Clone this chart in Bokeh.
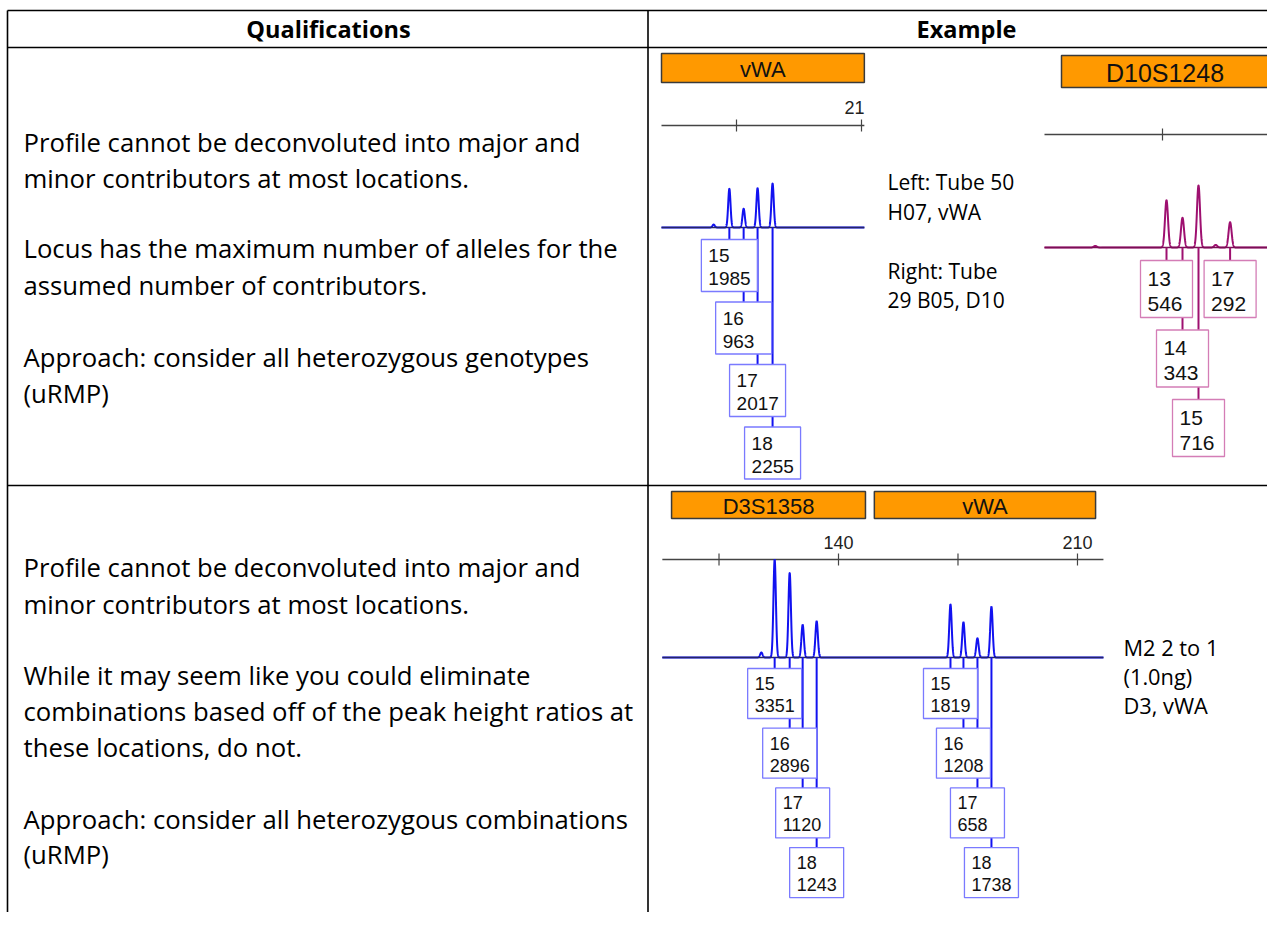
import numpy as np
from bokeh.plotting import figure
from bokeh.models import Range1d
from bokeh.core.properties import value
from bokeh.embed import file_html
from bokeh.resources import INLINE

# ------------------------------------------------------------------ data
# Table texts
header_texts = ["Qualifications", "Example"]
row1_lines = ["Profile cannot be deconvoluted into major and",
              "minor contributors at most locations.",
              "Locus has the maximum number of alleles for the",
              "assumed number of contributors.",
              "Approach: consider all heterozygous genotypes",
              "(uRMP)"]
row2_lines = ["Profile cannot be deconvoluted into major and",
              "minor contributors at most locations.",
              "While it may seem like you could eliminate",
              "combinations based off of the peak height ratios at",
              "these locations, do not.",
              "Approach: consider all heterozygous combinations",
              "(uRMP)"]
note1_lines = ["Left: Tube 50", "H07, vWA", "Right: Tube", "29 B05, D10"]
note2_lines = ["M2 2 to 1", "(1.0ng)", "D3, vWA"]

# Panel A: vWA (Tube 50 H07)
A_alleles = ["15", "16", "17", "18"]
A_size = [173.0, 177.0, 180.9, 185.1]
A_rfu = [1985, 963, 2017, 2255]
A_minor_size = [168.6]
A_minor_rfu = [150]
A_ticks = [175, 210]
A_tick_labels = ["", "21"]
A_loci = ["vWA"]
A_locus_start = [154.0]
A_locus_end = [210.8]

# Panel B: D10S1248 (Tube 29 B05)
B_alleles = ["13", "14", "15", "17"]
B_size = [106.0, 110.0, 114.0, 121.9]
B_rfu = [546, 343, 716, 292]
B_minor_size = [88.2, 118.3]
B_minor_rfu = [18, 30]
B_ticks = [105]
B_tick_labels = [""]
B_loci = ["D10S1248"]
B_locus_start = [79.75]
B_locus_end = [131.5]

# Panel C: D3S1358 + vWA (M2 2 to 1, 1.0ng)
C_alleles = ["15", "16", "17", "18", "15", "16", "17", "18"]
C_size = [121.3, 125.7, 129.5, 133.6, 172.8, 176.6, 180.7, 184.8]
C_rfu = [3351, 2896, 1120, 1243, 1819, 1208, 658, 1738]
C_minor_size = [117.4]
C_minor_rfu = [170]
C_ticks = [105, 140, 175, 210]
C_tick_labels = ["", "140", "", "210"]
C_loci = ["D3S1358", "vWA"]
C_locus_start = [91.1, 150.5]
C_locus_end = [147.9, 215.3]

# ------------------------------------------------------------------ figure
X0, X1, Y0, Y1 = 0, 1267, 0, 912
p = figure(width=1267, height=912, x_range=Range1d(X0, X1), y_range=Range1d(Y1, Y0),
           output_backend="svg", toolbar_location=None, min_border=0)
p.axis.visible = False
p.grid.visible = False
p.outline_line_color = None
p.background_fill_color = "white"

BODY = value("Open Sans")
ARIAL = value("Liberation Sans")

# table lines
p.segment(x0=[7, 7, 7, 647.5, 7], y0=[10, 47, 485, 10, 10],
          x1=[1283, 1283, 1283, 647.5, 7], y1=[10, 47, 485, 928, 928],
          line_color="black", line_width=1.6)

# header texts
p.text(x=[328, 966], y=[28, 28], text=header_texts, text_font=BODY,
       text_font_style="bold", text_font_size="23.5px", text_align="center",
       text_baseline="middle", text_color="black")

# body texts
p.text(x=[23] * len(row1_lines), y=[141.5, 177.5, 248, 284.5, 356.5, 392.5], text=row1_lines,
       text_font=BODY, text_font_size="25.7px", text_baseline="middle", text_color="black")
p.text(x=[23] * len(row2_lines), y=[566.5, 603.5, 674.5, 710.5, 746.5, 818.5, 853.5],
       text=row2_lines, text_font=BODY, text_font_size="25.7px", text_baseline="middle",
       text_color="black")
p.text(x=[887] * 4, y=[181.5, 211.5, 270.5, 299.5], text=note1_lines,
       text_font=BODY, text_font_size="21px", text_baseline="middle", text_color="black")
p.text(x=[1123] * 3, y=[647, 676, 705], text=note2_lines,
       text_font=BODY, text_font_size="21.8px", text_baseline="middle", text_color="black")


def panel(name, alleles, size, rfu, minor_size, minor_rfu, ticks, tick_labels,
          loci, locus_start, locus_end, levels, *,
          px_ref, bp_ref, px_per_bp, base_px, px_per_rfu, extent,
          axis_y, locus_top, locus_bot, locus_font, box_top0, box_step, box_w, box_h,
          t1, t2, num_font, trace_color, base_color, box_color, sigma,
          tick_label_y=None, tick_label_dx=0):
    xr = name + "_x"
    yr = name + "_y"
    p.extra_x_ranges[xr] = Range1d(bp_ref + (X0 - px_ref) / px_per_bp,
                                   bp_ref + (X1 - px_ref) / px_per_bp)
    p.extra_y_ranges[yr] = Range1d((base_px - Y1) / px_per_rfu, (base_px - Y0) / px_per_rfu)

    # locus bins
    p.quad(left=locus_start, right=locus_end, top=[locus_top] * len(loci),
           bottom=[locus_bot] * len(loci), fill_color="#ff9900", line_color="#3a3a3a",
           line_width=1.5, x_range_name=xr)
    p.text(x=[(a + b) / 2 for a, b in zip(locus_start, locus_end)],
           y=[(locus_top + locus_bot) / 2 + 1] * len(loci), text=loci, text_font=ARIAL,
           text_font_size=locus_font, text_align="center", text_baseline="middle",
           text_color="#111111", x_range_name=xr)

    # size axis
    p.segment(x0=[extent[0]], x1=[extent[1]], y0=[axis_y], y1=[axis_y],
              line_color="#444444", line_width=1.6, x_range_name=xr)
    p.segment(x0=ticks, x1=ticks, y0=[axis_y - 6] * len(ticks), y1=[axis_y + 6] * len(ticks),
              line_color="#444444", line_width=1.2, x_range_name=xr)
    if tick_label_y is not None:
        p.text(x=ticks, y=[tick_label_y] * len(ticks), text=tick_labels, x_offset=tick_label_dx,
               text_font=ARIAL, text_font_size="18px", text_align="center",
               text_baseline="middle", text_color="#222222", x_range_name=xr)

    # trace
    xs = np.linspace(extent[0], extent[1], 4000)
    ys = np.zeros_like(xs)
    for s, h in zip(list(size) + list(minor_size), list(rfu) + list(minor_rfu)):
        ys += h * np.exp(-0.5 * ((xs - s) / sigma) ** 2)
    p.line(xs, ys, line_color=trace_color, line_width=2.0, x_range_name=xr, y_range_name=yr)
    p.segment(x0=[extent[0]], x1=[extent[1]], y0=[0], y1=[0], line_color=base_color,
              line_width=1.6, x_range_name=xr, y_range_name=yr)

    # allele labels
    tops = [box_top0 + lv * box_step for lv in levels]
    p.segment(x0=size, x1=size, y0=[base_px] * len(size), y1=tops,
              line_color=trace_color, line_width=2.0, x_range_name=xr)
    p.rect(x=size, y=[t + box_h / 2 for t in tops], width=box_w, width_units="screen",
           height=box_h, fill_color="white", line_color=box_color, line_width=1.3,
           x_range_name=xr)
    p.text(x=size, y=[t + t1 for t in tops], text=alleles, x_offset=-box_w / 2 + 7,
           text_font=ARIAL, text_font_size=num_font, text_baseline="middle",
           text_color="#111111", x_range_name=xr)
    p.text(x=size, y=[t + t2 for t in tops], text=[str(v) for v in rfu],
           x_offset=-box_w / 2 + 7, text_font=ARIAL, text_font_size=num_font,
           text_baseline="middle", text_color="#111111", x_range_name=xr)


BLUE = "#1212f0"
NAVY = "#24246a"

panel("A", A_alleles, A_size, A_rfu, A_minor_size, A_minor_rfu, A_ticks, A_tick_labels,
      A_loci, A_locus_start, A_locus_end, [0, 1, 2, 3],
      px_ref=736, bp_ref=175, px_per_bp=125 / 35, base_px=227, px_per_rfu=0.0195,
      extent=(154.0, 210.8), axis_y=125, locus_top=53, locus_bot=82, locus_font="22px",
      box_top0=239, box_step=62.5, box_w=56, box_h=52, t1=16, t2=39, num_font="19px",
      trace_color=BLUE, base_color=NAVY, box_color="#7a7aff", sigma=0.33,
      tick_label_y=107, tick_label_dx=-7)

panel("B", B_alleles, B_size, B_rfu, B_minor_size, B_minor_rfu, B_ticks, B_tick_labels,
      B_loci, B_locus_start, B_locus_end, [0, 1, 2, 0],
      px_ref=1162, bp_ref=105, px_per_bp=4.0, base_px=247, px_per_rfu=0.0866,
      extent=(75.5, 136.0), axis_y=134, locus_top=55, locus_bot=87, locus_font="25px",
      box_top0=260, box_step=69.5, box_w=52, box_h=57, t1=18, t2=43, num_font="21px",
      trace_color="#9e1070", base_color="#7a0f55", box_color="#d47db6", sigma=0.38)

panel("C", C_alleles, C_size, C_rfu, C_minor_size, C_minor_rfu, C_ticks, C_tick_labels,
      C_loci, C_locus_start, C_locus_end, [0, 1, 2, 3, 0, 1, 2, 3],
      px_ref=838, bp_ref=140, px_per_bp=3.414, base_px=657, px_per_rfu=0.02925,
      extent=(88.4, 217.6), axis_y=559, locus_top=491, locus_bot=518, locus_font="22px",
      box_top0=668, box_step=59.7, box_w=54, box_h=50, t1=15, t2=37, num_font="18px",
      trace_color=BLUE, base_color=NAVY, box_color="#7a7aff", sigma=0.36,
      tick_label_y=542, tick_label_dx=0)

open("out.html", "w").write(file_html(p, INLINE))
